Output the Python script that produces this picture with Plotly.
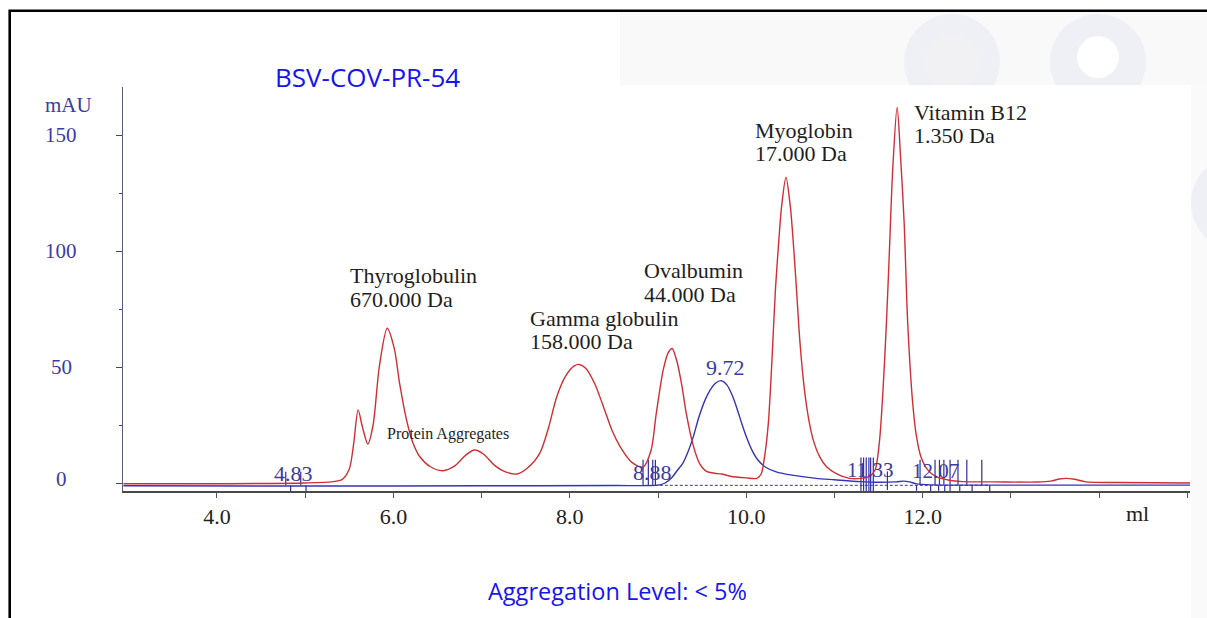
import plotly.graph_objects as go

# ---------------- data ----------------
# standards run (red): elution volume (ml) / absorbance (mAU)
red_x = [2.94, 4.0, 5.0, 5.3, 5.42, 5.50, 5.55, 5.60, 5.65, 5.71, 5.77, 5.84, 5.93, 6.01,
         6.07, 6.15, 6.22, 6.30, 6.42, 6.56, 6.70, 6.82, 6.92, 7.02, 7.15, 7.27, 7.40,
         7.52, 7.66, 7.76, 7.85, 7.95, 8.05, 8.105, 8.18, 8.28, 8.38, 8.48, 8.57, 8.70,
         8.83, 8.92, 8.98, 9.06, 9.12, 9.16, 9.21, 9.27, 9.32, 9.40, 9.47, 9.55, 9.64,
         9.72, 9.82, 10.0, 10.12, 10.17, 10.21, 10.25, 10.29, 10.33, 10.37, 10.40, 10.45,
         10.50, 10.54, 10.57, 10.61, 10.66, 10.71, 10.76, 10.83, 10.91, 11.03, 11.17,
         11.30, 11.40, 11.46, 11.51, 11.55, 11.59, 11.62, 11.66, 11.71, 11.75, 11.79,
         11.83, 11.89, 11.93, 11.98, 12.05, 12.15, 12.30, 12.45, 12.8, 13.3, 13.45,
         13.55, 13.63, 13.72, 13.85, 14.2, 15.03]
red_y = [-0.3, -0.3, 0.0, 0.5, 1.5, 6, 17, 31.5, 24, 16.8, 25, 50, 66.7, 58,
         43, 27, 17.5, 11.3, 7, 5.3, 7.5, 12, 14.2, 12.5, 7.5, 4.8, 3.9,
         6.5, 12.9, 24, 37, 46, 50.5, 51.1, 49.5, 43, 33, 22.5, 15.7, 9,
         6.8, 14, 30, 49, 56.5, 58, 53, 42, 30, 16, 8.5, 5.0, 4.2,
         3.9, 2.9, 2.2, 2.0, 4, 12, 25.7, 52, 83, 105, 119, 131.8,
         119, 100, 83, 60, 40, 27, 18.5, 11.5, 7, 3.8, 2.0,
         2.0, 3.0, 5.6, 18, 40, 70, 97.5, 135, 162, 140, 112,
         69, 33, 20, 11.3, 6, 2.7, 1.2, 0.6, 0.5, 0.4, 0.8,
         1.7, 2.0, 1.6, 0.5, 0.2, 0.0]

# sample run (blue)
blue_x = [2.94, 5.0, 7.0, 8.5, 9.0, 9.08, 9.16, 9.22, 9.28, 9.34, 9.40, 9.46, 9.53, 9.59,
          9.65, 9.715, 9.78, 9.85, 9.90, 9.95, 10.00, 10.06, 10.13, 10.22, 10.34, 10.5,
          10.79, 11.0, 11.29, 11.5, 11.70, 11.78, 11.85, 11.93, 12.1, 13.0, 15.03]
blue_y = [-1.2, -1.3, -1.2, -1.1, -0.9, 0, 2.5, 5.5, 8.5, 13.5, 20, 28, 35.5, 40,
          43, 44.1, 42.3, 37, 31.5, 25.5, 20, 14.5, 10, 6.8, 4.8, 3.5,
          2.0, 1.4, 0.6, 0.3, 0.5, 0.8, 0.5, -0.4, -0.8, -0.9, -0.9]

# integration baseline (dashed)
baseline_x = [8.85, 12.76]
baseline_y = [-1.0, -1.0]

# peak-integration markers (vertical bars)
mark_x = [4.78, 4.95, 8.83, 8.89, 8.94, 8.97, 11.30, 11.33, 11.36, 11.39, 11.41, 11.44,
          11.60, 11.97, 12.14, 12.19, 12.24, 12.31, 12.40, 12.50, 12.67]
mark_top = [4.9, 4.9, 10, 10, 10, 10, 11, 11, 11, 11, 11, 11,
            5, 10, 10, 10, 10, 10, 10, 10, 10]
mark_bottom = [-1, -1, -1.2, -1.2, -1.2, -1.2, -3.4, -3.4, -3.4, -3.4, -3.4, -3.4,
               -3.0, -0.8, -0.8, -0.8, -0.8, -0.8, -0.8, -0.8, -0.8]
tick_mark_x = [4.835, 5.01, 11.93, 12.09, 12.18, 12.25, 12.31, 12.42, 12.56, 12.76]

retention_labels = ["4.83", "8.88", "9.72", "11.33", "12.07"]
peak_names = ["Thyroglobulin", "Protein Aggregates", "Gamma globulin", "Ovalbumin",
              "Myoglobin", "Vitamin B12"]
peak_masses = ["670.000 Da", "", "158.000 Da", "44.000 Da", "17.000 Da", "1.350 Da"]

x_tick_vals = [4, 5, 6, 7, 8, 9, 10, 11, 12, 13, 14, 15]
x_tick_text = ["4.0", "", "6.0", "", "8.0", "", "10.0", "", "12.0", "", "", ""]
y_tick_vals = [0, 50, 100, 150]

# ---------------- geometry ----------------
W, H = 1207, 618
L, R, T, B = 123, 17, 87, 127
PW, PH = W - L - R, H - T - B


def px(xp):
    return (xp - L) / PW


def py(yp):
    return (H - B - yp) / PH


RED = "#cf2f33"
BLUE = "#3434b4"
TXTBLUE = "#3b3b9e"
TITLEBLUE = "rgb(22,22,236)"
SERIF = "Liberation Serif, Times New Roman, serif"
SANS = "Open Sans, Noto Sans, sans-serif"

fig = go.Figure()

# marker bars
mx, my = [], []
for x, t, b in zip(mark_x, mark_top, mark_bottom):
    mx += [x, x, None]
    my += [b, t, None]
for x in tick_mark_x:
    mx += [x, x, None]
    my += [-1.0, -3.4, None]
fig.add_trace(go.Scatter(x=mx, y=my, mode="lines", line=dict(color="#2e2e9e", width=1.2),
                         hoverinfo="skip", showlegend=False))

fig.add_trace(go.Scatter(x=baseline_x, y=baseline_y, mode="lines",
                         line=dict(color=BLUE, width=1, dash="3px,2px"),
                         hoverinfo="skip", showlegend=False))
fig.add_trace(go.Scatter(x=blue_x, y=blue_y, mode="lines",
                         line=dict(color=BLUE, width=1.4, shape="spline", smoothing=0.8),
                         name="sample", showlegend=False))
fig.add_trace(go.Scatter(x=red_x, y=red_y, mode="lines",
                         line=dict(color=RED, width=1.4, shape="spline", smoothing=0.8),
                         name="standards", showlegend=False))

ann = []
# peak labels (two lines each)
label_pos = [(5.496, 89.4, 79.0), (5.912, 21.3, None), (7.535, 71.1, 60.8),
             (8.824, 91.5, 81.2), (10.085, 151.9, 142.1), (11.887, 159.8, 149.7)]
for name, mass, (x, y1, y2) in zip(peak_names, peak_masses, label_pos):
    size = 16 if mass == "" else 22
    ann.append(dict(x=x, y=y1, xref="x", yref="y", text=name, showarrow=False,
                    xanchor="left", yanchor="middle", borderpad=0,
                    font=dict(family=SERIF, size=size, color="#1e1e1e")))
    if mass:
        ann.append(dict(x=x, y=y2, xref="x", yref="y", text=mass, showarrow=False,
                        xanchor="left", yanchor="middle", borderpad=0,
                        font=dict(family=SERIF, size=size, color="#1e1e1e")))

ret_pos = [(4.873, 3.9, 22), (8.935, 4.7, 22), (9.77, 49.8, 22), (11.40, 5.6, 21), (12.14, 5.0, 21)]
for t, (x, y, s) in zip(retention_labels, ret_pos):
    ann.append(dict(x=x, y=y, xref="x", yref="y", text=t, showarrow=False,
                    xanchor="center", yanchor="middle", borderpad=0,
                    font=dict(family=SERIF, size=s, color=TXTBLUE)))

# y tick labels centred like the original
for v in y_tick_vals:
    ann.append(dict(x=px(61), y=v, xref="paper", yref="y", text=str(v), showarrow=False,
                    xanchor="center", yanchor="middle", yshift=4 if v == 0 else 0,
                    font=dict(family=SERIF, size=21, color=TXTBLUE)))
ann.append(dict(x=px(68), y=py(105), xref="paper", yref="paper", text="mAU", showarrow=False,
                xanchor="center", yanchor="middle",
                font=dict(family=SERIF, size=21, color=TXTBLUE)))
ann.append(dict(x=14.44, y=py(513), xref="x", yref="paper", text="ml", showarrow=False,
                xanchor="center", yanchor="middle",
                font=dict(family=SERIF, size=22, color="#222222")))
ann.append(dict(x=px(367), y=py(77), xref="paper", yref="paper", text="BSV-COV-PR-54",
                showarrow=False, xanchor="center", yanchor="middle",
                font=dict(family=SANS, size=26, color=TITLEBLUE)))
ann.append(dict(x=px(617.5), y=py(591), xref="paper", yref="paper",
                text="Aggregation Level: < 5%", showarrow=False,
                xanchor="center", yanchor="middle",
                font=dict(family=SANS, size=23.5, color=TITLEBLUE)))

shapes = []


def rect(x0, y0, x1, y1, fill, line=None, lw=0):
    d = dict(type="rect", xref="paper", yref="paper", x0=px(x0), x1=px(x1), y0=py(y0), y1=py(y1),
             fillcolor=fill, layer="below", line=dict(width=lw, color=line or fill))
    return d


def circ(cx, cy, r, fill):
    return dict(type="circle", xref="paper", yref="paper", x0=px(cx - r), x1=px(cx + r),
                y0=py(cy - r), y1=py(cy + r), fillcolor=fill, layer="below", line=dict(width=0))


LAV = "#efeff6"
shapes.append(rect(620, 10, 1260, 85, "#f9f9f9"))
shapes.append(rect(1191, 85, 1260, 700, "#fafafa"))
shapes.append(circ(952, 62, 48, LAV))
shapes.append(circ(952, 62, 28, "#f1f1f4"))
shapes.append(circ(1098, 62, 48, LAV))
shapes.append(circ(1098, 57, 21, "#ffffff"))
shapes.append(circ(1239, 203, 48, LAV))
shapes.append(rect(12, 85, 1191, 700, "#ffffff"))
shapes.append(dict(type="rect", xref="paper", yref="paper", x0=px(9.7), y0=py(10.7),
                   x1=px(1300), y1=py(700), layer="below", fillcolor="rgba(0,0,0,0)",
                   line=dict(color="#000000", width=2.6)))

fig.update_layout(
    width=W, height=H, margin=dict(l=L, r=R, t=T, b=B, pad=0),
    paper_bgcolor="white", plot_bgcolor="rgba(0,0,0,0)",
    showlegend=False, annotations=ann, shapes=shapes,
    xaxis=dict(range=[2.935, 15.03], showgrid=False, zeroline=False, showline=True,
               linecolor="#4a4a4a", linewidth=2, ticks="outside", ticklen=5, tickwidth=1,
               tickcolor="#555555", tickvals=x_tick_vals, ticktext=x_tick_text,
               tickfont=dict(family=SERIF, size=22, color="#222222")),
    yaxis=dict(range=[-3.45, 170.7], showgrid=False, zeroline=False, showline=True,
               linecolor="#5b5b88", linewidth=1.4, ticks="outside", ticklen=6, tickwidth=1.2,
               tickcolor="#44446e", tickvals=y_tick_vals, showticklabels=False,
               minor=dict(tickvals=[25, 75, 125], ticks="outside", ticklen=3,
                          tickcolor="#44446e", tickwidth=1)),
)

fig.write_html("out.html", config={"displayModeBar": False},
               post_script="document.body.style.margin='0';document.body.style.overflow='hidden';")
